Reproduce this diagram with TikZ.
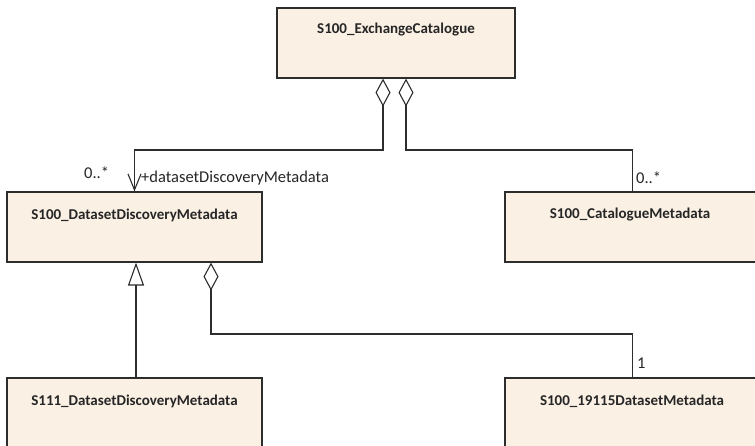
\documentclass[tikz,border=0pt]{standalone}
\usepackage{fontspec}
\setmainfont{Carlito}
\usetikzlibrary{arrows.meta}
\definecolor{boxfill}{RGB}{250,240,228}
\definecolor{edge}{RGB}{45,45,45}
\begin{document}
\begin{tikzpicture}[x=1pt,y=-1pt,
  umlbox/.style={draw=edge,fill=boxfill,line width=1.2pt,rectangle,inner sep=0pt},
  boxtxt/.style={font=\fontsize{15}{18}\selectfont\bfseries,text=black!85,inner sep=0pt},
  lbl/.style={font=\fontsize{16.5}{19}\selectfont,text=black!85,inner sep=0pt},
  conn/.style={draw=edge,line width=1.1pt},
  agg/.style={conn,{Diamond[open,length=28pt,width=15pt,line width=1.1pt]}-},
  aggnav/.style={conn,{Diamond[open,length=28pt,width=15pt,line width=1.1pt]}-{Straight Barb[length=16pt,width=13pt,line width=1.1pt]}},
  gen/.style={conn,-{Triangle[open,length=23pt,width=16pt,line width=1.1pt]}}
]
\path[use as bounding box] (0,0) rectangle (755,446);
\clip (0,0) rectangle (755,446);
\fill[white] (0,0) rectangle (755,446);

% boxes
\node[umlbox,minimum width=238pt,minimum height=70pt] (ex) at (396,43) {};
\node[umlbox,minimum width=255pt,minimum height=70pt] (ddm) at (134.5,227) {};
\node[umlbox,minimum width=255pt,minimum height=70pt] (cm) at (632.5,227) {};
\node[umlbox,minimum width=255pt,minimum height=72pt] (s111) at (134.5,414) {};
\node[umlbox,minimum width=255pt,minimum height=72pt] (s19115) at (632.5,414) {};

% box names
\node[boxtxt] (ext) at (396,30) {S100\_ExchangeCatalogue};
\node[boxtxt] (ddmt) at (134.5,215) {S100\_DatasetDiscoveryMetadata};
\node[boxtxt] (cmt) at (630,215) {S100\_CatalogueMetadata};
\node[boxtxt] (s111t) at (134.5,401) {S111\_DatasetDiscoveryMetadata};
\node[boxtxt] (s19115t) at (632,401) {S100\_19115DatasetMetadata};

% connector bends
\coordinate (a1) at (383,150);
\coordinate (a2) at (406,150);
\coordinate (b1) at (211,334);

% connectors
\draw[aggnav] (ex.south -| a1) -- (a1) -| (ddm.north);
\draw[agg] (ex.south -| a2) -- (a2) -| (cm.north);
\draw[gen] (s111.north -| 136,0) -- (ddm.south -| 136,0);
\draw[agg] (ddm.south -| b1) -- (b1) -| (s19115.north);

% labels
\node[lbl,anchor=west] (m1) at (84,173) {0..*};
\node[lbl,anchor=west] (r1) at (141,178) {+datasetDiscoveryMetadata};
\node[lbl,anchor=west] (m2) at (636,178) {0..*};
\node[lbl,anchor=west] (m3) at (637,363) {1};
\end{tikzpicture}
\end{document}
